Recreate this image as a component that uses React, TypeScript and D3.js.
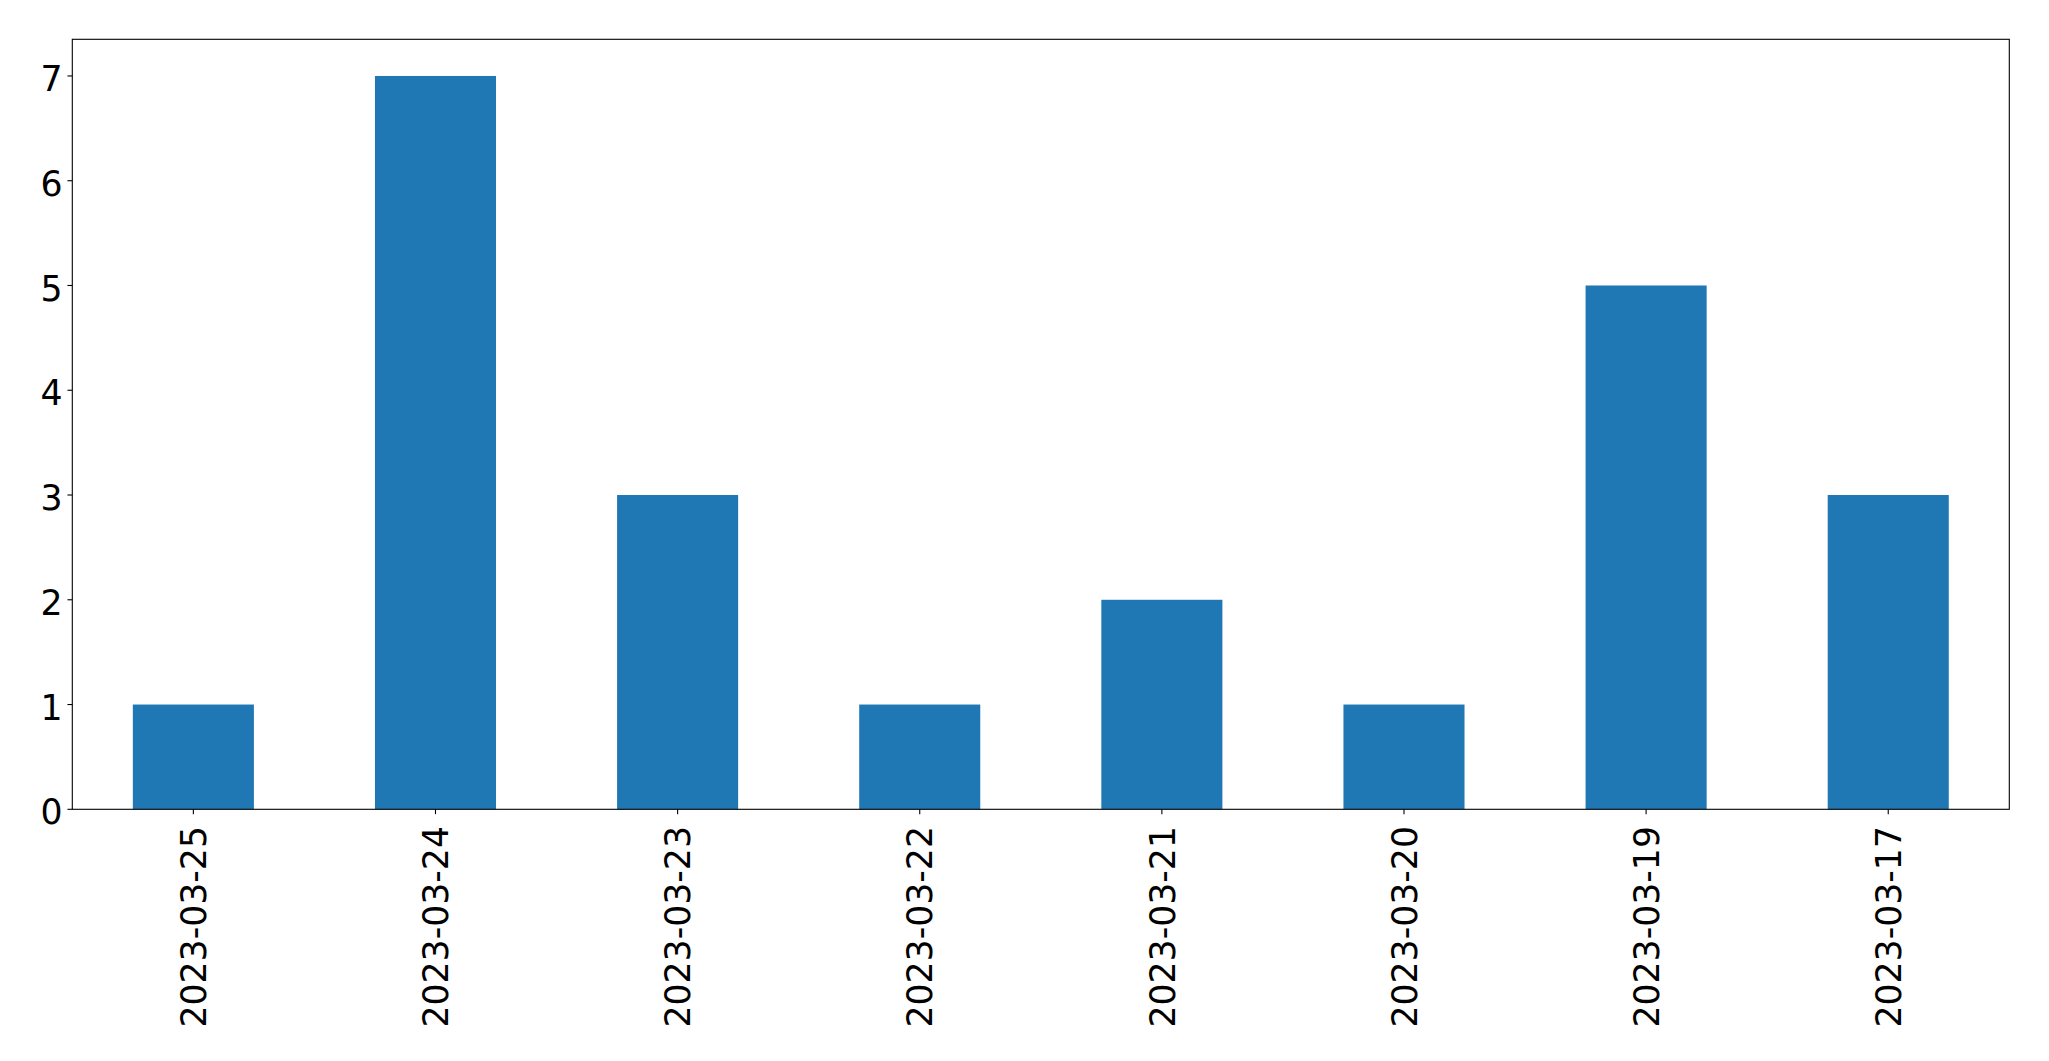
import React from "react";
import * as d3 from "d3";

const categories = ["2023-03-25", "2023-03-24", "2023-03-23", "2023-03-22", "2023-03-21", "2023-03-20", "2023-03-19", "2023-03-17"];
const values = [1, 7, 3, 1, 2, 1, 5, 3];
const yTicks = [0, 1, 2, 3, 4, 5, 6, 7];

const W = 2049;
const H = 1061;
const left = 72.3;
const right = 2009.3;
const top = 39.3;
const bottom = 809.3;
const fs = 34.7;
const tickLen = 4.86;
const pad = 4.86;

export default function App() {
  const x = d3.scaleBand<string>().domain(categories).range([left, right]).paddingInner(0.5).paddingOuter(0.25);
  const y = d3.scaleLinear().domain([0, 7.35]).range([bottom, top]);
  const bw = x.bandwidth();
  return (
    <svg width={W} height={H} style={{ position: "absolute", left: 0, top: 0, background: "#fff" }} fontFamily="DejaVu Sans">
      <rect x={0} y={0} width={W} height={H} fill="#fff" />
      {values.map((v, i) => (
        <rect key={i} x={x(categories[i])!} y={y(v)} width={bw} height={y(0) - y(v)} fill="#1f77b4" />
      ))}
      <rect x={left} y={top} width={right - left} height={bottom - top} fill="none" stroke="#000" strokeWidth={1.1} />
      {yTicks.map((t) => (
        <g key={t}>
          <line x1={left - tickLen} x2={left} y1={y(t)} y2={y(t)} stroke="#000" strokeWidth={1.1} />
          <text x={left - tickLen - pad} y={y(t) + 0.3645 * fs + 2.5} fontSize={fs} textAnchor="end" fill="#000">{t}</text>
        </g>
      ))}
      {categories.map((c) => {
        const cx = x(c)! + bw / 2;
        const ty = bottom + tickLen + pad + 7;
        return (
          <g key={c}>
            <line x1={cx} x2={cx} y1={bottom} y2={bottom + tickLen} stroke="#000" strokeWidth={1.1} />
            <text transform={`translate(${cx + 0.3645 * fs},${ty}) rotate(-90)`} fontSize={fs} textAnchor="end" fill="#000">{c}</text>
          </g>
        );
      })}
    </svg>
  );
}
